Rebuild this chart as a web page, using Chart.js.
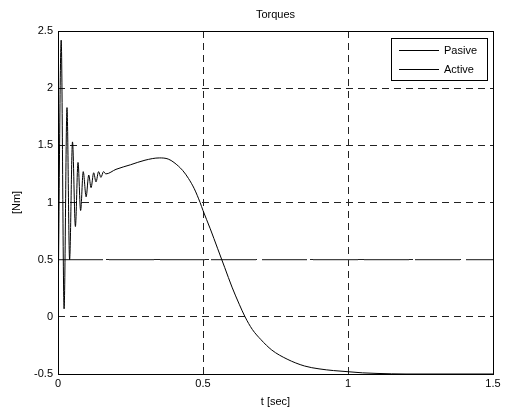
<!DOCTYPE html>
<html>
<head>
<title>Torques</title>
<style> body { margin: 0; background: white; } </style>
<script src="https://cdn.jsdelivr.net/npm/chart.js@4.4.0/dist/chart.umd.min.js"></script>
</head>
<body>
<canvas id="torqueChart" width="511" height="411"></canvas>
<script>
// values
let tPasive = [0, 0.011, 0.021, 0.031, 0.040, 0.050, 0.060, 0.069, 0.078, 0.087, 0.097, 0.106, 0.114, 0.123, 0.131, 0.140, 0.148, 0.157, 0.165,
  0.2, 0.25, 0.3, 0.35, 0.38, 0.4, 0.43, 0.45, 0.47, 0.49, 0.5, 0.525, 0.55, 0.575, 0.6, 0.625, 0.645, 0.67, 0.7, 0.737, 0.79, 0.85, 0.9, 0.95, 1.0, 1.05, 1.1, 1.2, 1.5];
let pasive = [0, 2.42, 0.07, 1.83, 0.5, 1.53, 0.79, 1.35, 0.93, 1.27, 1.05, 1.24, 1.13, 1.26, 1.18, 1.27, 1.22, 1.27, 1.25,
  1.29, 1.33, 1.37, 1.39, 1.38, 1.35, 1.28, 1.21, 1.12, 1.0, 0.93, 0.77, 0.6, 0.43, 0.26, 0.11, 0.0, -0.11, -0.2, -0.29, -0.37, -0.43, -0.455, -0.47, -0.48, -0.49, -0.495, -0.5, -0.5];
let tActive = [0, 1.5];
let active = [0.5, 0.5];
let xTicks = [0, 0.5, 1, 1.5];
let yTicks = [-0.5, 0, 0.5, 1, 1.5, 2, 2.5];
let seriesNames = ['Pasive', 'Active'];

let font = 'Liberation Sans, Arial, sans-serif';

// title, axis labels, full box and legend like the matlab figure
let extras = {
  id: 'extras',
  afterDraw(chart) {
    let c = chart.ctx, a = chart.chartArea;
    c.save();
    c.strokeStyle = '#000';
    c.lineWidth = 1;
    c.strokeRect(a.left + 0.5, a.top + 0.5, a.right - a.left, a.bottom - a.top);
    c.fillStyle = '#000';
    c.font = '11px ' + font;
    c.textAlign = 'center';
    c.textBaseline = 'middle';
    let cx = (a.left + a.right) / 2;
    c.fillText('Torques', cx, 15);
    c.fillText('t [sec]', cx, 402);
    c.save();
    c.translate(17, (a.top + a.bottom) / 2);
    c.rotate(-Math.PI / 2);
    c.fillText('[Nm]', 0, 0);
    c.restore();
    // legend
    let lx = 391, ly = 38, lw = 96, lh = 42;
    c.fillStyle = '#fff';
    c.fillRect(lx, ly, lw, lh);
    c.strokeRect(lx + 0.5, ly + 0.5, lw, lh);
    c.textAlign = 'left';
    c.fillStyle = '#000';
    seriesNames.forEach((name, i) => {
      let y = ly + 12.5 + i * 19;
      c.beginPath();
      c.moveTo(lx + 8, y);
      c.lineTo(lx + 48, y);
      c.stroke();
      c.fillText(name, lx + 53, y);
    });
    c.restore();
  }
};

let ctx = document.getElementById('torqueChart').getContext('2d');
let chart = new Chart(ctx, {
  type: 'scatter',
  data: {
    datasets: [{
      label: seriesNames[0],
      data: tPasive.map((t, i) => ({ x: t, y: pasive[i] })),
      showLine: true,
      borderColor: '#000',
      borderWidth: 1,
      pointRadius: 0,
      cubicInterpolationMode: 'monotone'
    }, {
      label: seriesNames[1],
      data: tActive.map((t, i) => ({ x: t, y: active[i] })),
      showLine: true,
      borderColor: '#444',
      borderWidth: 1.3,
      borderDash: [45, 6],
      pointRadius: 0
    }]
  },
  options: {
    responsive: false,
    animation: false,
    devicePixelRatio: 1,
    layout: { padding: { top: 31, right: 18, left: 0, bottom: 0 } },
    plugins: { legend: { display: false }, tooltip: { enabled: false } },
    scales: {
      x: {
        type: 'linear', min: 0, max: 1.5,
        afterBuildTicks: s => { s.ticks = xTicks.map(v => ({ value: v })); },
        afterFit: s => { s.height = 37; },
        ticks: { color: '#000', font: { family: font, size: 11 }, padding: 3, maxRotation: 0, callback: v => String(v) },
        grid: { color: '#222', drawTicks: false, tickLength: 0 },
        border: { display: false, dash: [7, 5] }
      },
      y: {
        type: 'linear', min: -0.5, max: 2.5,
        afterBuildTicks: s => { s.ticks = yTicks.map(v => ({ value: v })); },
        afterFit: s => { s.width = 58; },
        ticks: { color: '#000', font: { family: font, size: 11 }, padding: 5, callback: v => String(v) },
        grid: { color: '#222', drawTicks: false, tickLength: 0 },
        border: { display: false, dash: [7, 5] }
      }
    }
  },
  plugins: [extras]
});
</script>
</body>
</html>
